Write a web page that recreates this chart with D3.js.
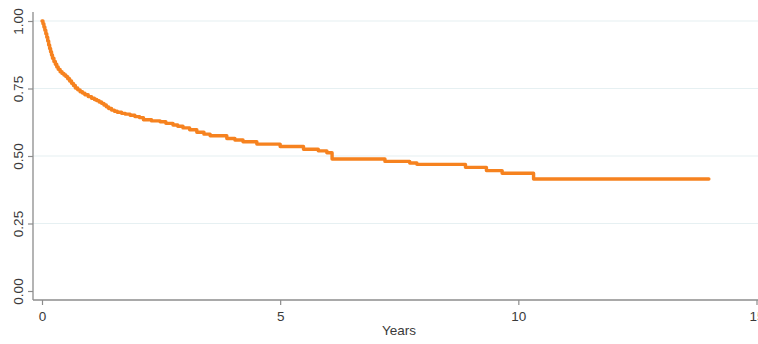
<!DOCTYPE html>
<html>
<head>
<meta charset="utf-8">
<script src="https://cdn.jsdelivr.net/npm/d3@7"></script>
<style>
  body { margin: 0; background: #fff; }
  svg text { font-family: "Liberation Sans", Arial, sans-serif; fill: #3a3a3a; }
</style>
</head>
<body>
<div id="chart"></div>
<script>
// survival estimate (step function)
var years = [0, 0.02, 0.04, 0.06, 0.08, 0.1, 0.12, 0.14, 0.16, 0.18, 0.2, 0.22, 0.25, 0.28, 0.31, 0.34,
  0.38, 0.42, 0.46, 0.5, 0.54, 0.58, 0.62, 0.66, 0.7, 0.75, 0.8, 0.85, 0.9, 0.97,
  1.04, 1.1, 1.15, 1.2, 1.25, 1.3, 1.35, 1.4, 1.46, 1.52, 1.58, 1.67, 1.75, 1.85, 1.95, 2.05, 2.13, 2.3, 2.48, 2.6, 2.75, 2.85, 2.96,
  3.1, 3.25, 3.4, 3.53, 3.88, 4.05, 4.22, 4.51, 5.0, 5.49, 5.8, 5.98, 6.09, 7.2, 7.72, 7.87,
  8.89, 9.33, 9.66, 10.32, 14.0];
var survival = [1.0, 0.99, 0.978, 0.966, 0.953, 0.94, 0.926, 0.911, 0.898, 0.886, 0.874, 0.862, 0.85, 0.84, 0.83, 0.821,
  0.812, 0.806, 0.8, 0.794, 0.786, 0.778, 0.769, 0.761, 0.752, 0.745, 0.738, 0.733, 0.727, 0.72,
  0.714, 0.709, 0.705, 0.7, 0.695, 0.689, 0.682, 0.676, 0.67, 0.666, 0.662, 0.658, 0.655, 0.651, 0.646, 0.642, 0.634, 0.63, 0.627, 0.621, 0.615, 0.61, 0.604,
  0.597, 0.588, 0.581, 0.575, 0.565, 0.559, 0.553, 0.544, 0.535, 0.525, 0.519, 0.512, 0.489, 0.48, 0.474, 0.469,
  0.458, 0.446, 0.436, 0.415, 0.415];
var x_ticks = [0, 5, 10, 15];
var y_ticks = [0, 0.25, 0.5, 0.75, 1];
var y_grid = [0.25, 0.5, 0.75, 1];

var width = 758, height = 344;

var svg = d3.select("#chart").append("svg")
  .attr("width", width)
  .attr("height", height);

var x = d3.scaleLinear().domain([0, 15]).range([42, 756.5]);
var y = d3.scaleLinear().domain([0, 1]).range([291, 21]);

var axis_x0 = 33, axis_y0 = 300;

//Grid
svg.selectAll(".grid")
  .data(y_grid)
  .enter()
  .append("line")
  .attr("class", "grid")
  .attr("x1", axis_x0)
  .attr("x2", width)
  .attr("y1", function(d) { return y(d); })
  .attr("y2", function(d) { return y(d); })
  .style("stroke", "#e6f0f2")
  .style("stroke-width", 1.2);

//Y axis
var y_axis = d3.axisLeft(y).tickValues(y_ticks).tickFormat(d3.format(".2f")).tickSize(5).tickSizeOuter(0);
var gy = svg.append("g")
  .attr("transform", "translate(" + axis_x0 + ",0)")
  .call(y_axis);
gy.select(".domain").remove();
gy.append("line")
  .attr("x1", 0).attr("x2", 0)
  .attr("y1", 12).attr("y2", axis_y0)
  .style("stroke", "#8c8c8c").style("stroke-width", 1.3);
gy.selectAll(".tick line").style("stroke", "#8c8c8c").style("stroke-width", 1.2);
gy.selectAll(".tick text")
  .attr("x", null).attr("dy", null)
  .attr("transform", "translate(-10,0) rotate(-90)")
  .style("text-anchor", "middle")
  .style("font-size", "13.5px");

//X axis
var x_axis = d3.axisBottom(x).tickValues(x_ticks).tickFormat(d3.format("d")).tickSize(5).tickSizeOuter(0);
var gx = svg.append("g")
  .attr("transform", "translate(0," + axis_y0 + ")")
  .call(x_axis);
gx.select(".domain").remove();
gx.append("line")
  .attr("x1", axis_x0).attr("x2", width)
  .attr("y1", 0).attr("y2", 0)
  .style("stroke", "#8c8c8c").style("stroke-width", 1.3);
gx.selectAll(".tick line").style("stroke", "#8c8c8c").style("stroke-width", 1.2);
gx.selectAll(".tick text")
  .attr("y", 21).attr("dy", null)
  .style("font-size", "13.5px");

svg.append("text")
  .attr("x", 399)
  .attr("y", 335)
  .style("text-anchor", "middle")
  .style("font-size", "13.5px")
  .text("Years");

//Survival curve
var line = d3.line()
  .curve(d3.curveStepAfter)
  .x(function(d, i) { return x(years[i]); })
  .y(function(d, i) { return y(survival[i]); });

svg.append("path")
  .datum(years)
  .attr("d", line)
  .style("fill", "none")
  .style("stroke", "#f6821f")
  .style("stroke-width", 3.4)
  .style("stroke-linejoin", "round")
  .style("stroke-linecap", "round");
</script>
</body>
</html>
